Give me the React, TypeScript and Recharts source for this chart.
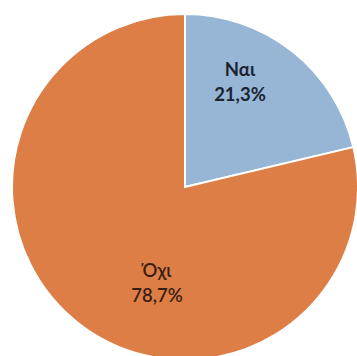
import { PieChart, Pie, Cell } from "recharts";

const labels = ["Ναι", "Όχι"];
const values = [21.3, 78.7];
const colors = ["#97B6D6", "#DE7E47"];
const textColors = ["#1B2433", "#3A1E10"];

const data = labels.map((name, i) => ({ name, value: values[i] }));

// where Excel put each label, relative to pie centre
const labelOffset = [
  { dx: 55, dy: -105 },
  { dx: -28, dy: 96 },
];

const renderLabel = (props: any) => {
  const { cx, cy, index } = props;
  const off = labelOffset[index];
  const x = cx + off.dx;
  const y = cy + off.dy;
  return (
    <text
      x={x}
      y={y}
      textAnchor="middle"
      fill={textColors[index]}
      fontFamily="Lato, 'DejaVu Sans', sans-serif"
      fontWeight={index === 0 ? 700 : 600}
      fontSize={18.5}
    >
      <tspan x={x} dy="-0.3em">{data[index].name}</tspan>
      <tspan x={x} dy="1.3em">{values[index].toFixed(1).replace(".", ",")}%</tspan>
    </text>
  );
};

export default function App() {
  return (
    <div style={{ position: "absolute", left: 0, top: 0, width: 357, height: 356, background: "#fff" }}>
      <PieChart width={357} height={356} margin={{ top: 0, right: 0, bottom: 0, left: 0 }}>
        <Pie
          data={data}
          dataKey="value"
          cx={185}
          cy={187}
          outerRadius={173}
          startAngle={90}
          endAngle={-270}
          stroke="#fff"
          strokeWidth={2}
          label={renderLabel}
          labelLine={false}
          isAnimationActive={false}
        >
          {data.map((d, i) => (
            <Cell key={d.name} fill={colors[i]} />
          ))}
        </Pie>
      </PieChart>
    </div>
  );
}
